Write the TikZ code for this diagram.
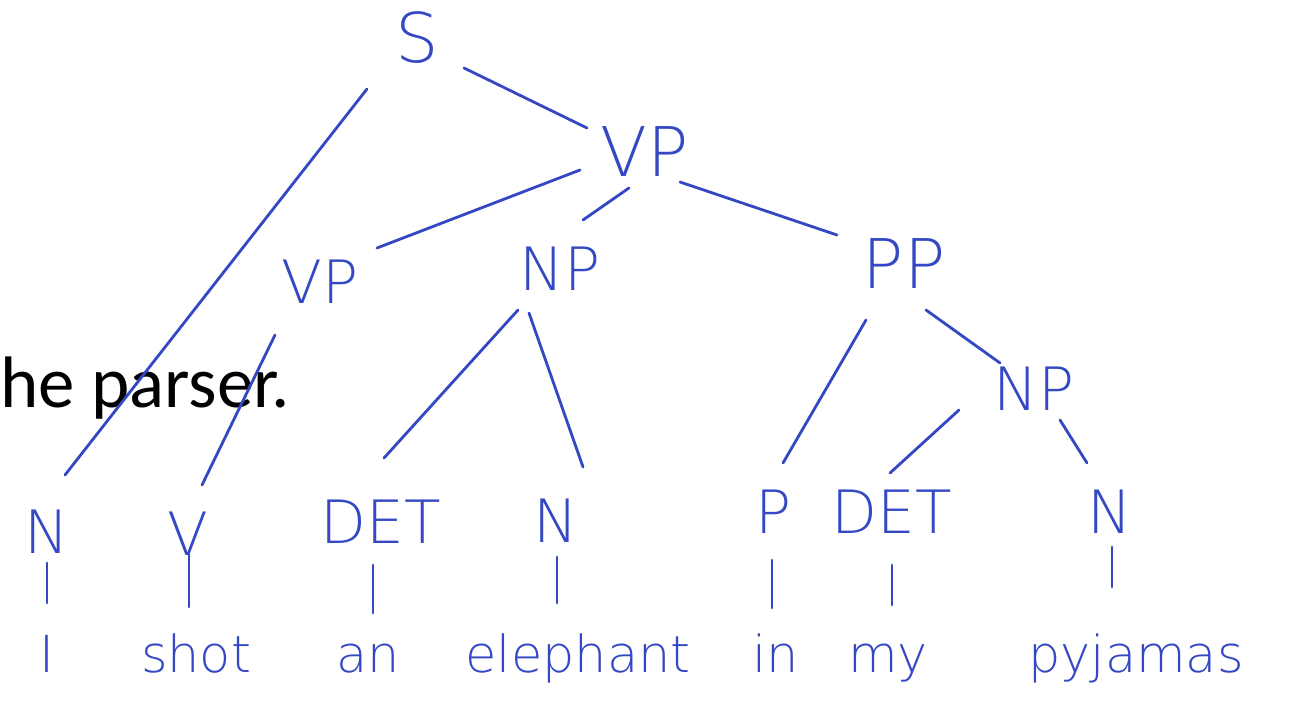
\documentclass[tikz,border=0pt]{standalone}
\usepackage{fontspec}
\setmainfont{DejaVu Sans}
\IfFontExistsTF{DejaVu Sans ExtraLight}{\newfontfamily\hand{DejaVu Sans ExtraLight}}{\newfontfamily\hand{DejaVu Sans}}
\newfontfamily\slidefont{Carlito}
\definecolor{ink}{RGB}{52,72,196}
\tikzset{
  lab/.style={anchor=base, inner sep=0pt, text=ink, font=\hand\fontsize{34}{34}\selectfont},
  biglab/.style={lab, font=\hand\fontsize{39}{39}\selectfont},
  leaf/.style={anchor=base, inner sep=0pt, text=ink, font=\hand\fontsize{29}{29}\selectfont},
  edge/.style={draw=ink, line width=1.6pt, line cap=round},
}
\begin{document}
\begin{tikzpicture}[x=0.02cm,y=-0.02cm]
\useasboundingbox (0,0) rectangle (1301,716);
\fill[white] (0,0) rectangle (1301,716);

% slide text
\node[anchor=base west, inner sep=0pt, font=\slidefont\fontsize{41.5}{41.5}\selectfont] (txt) at (0,407) {he parser.};

% phrase labels
\node[biglab] (S)   at (417,63)  {S};
\node[biglab] (VP0) at (645,177) {VP};
\node[lab]    (VP1) at (320,303) {VP};
\node[lab]    (NP1) at (560,290) {NP};
\node[biglab] (PP)  at (904,288) {PP};
\node[lab]    (NP2) at (1034,410) {NP};
% preterminals
\node[lab] (N1)   at (47,553)  {N};
\node[lab] (V)    at (188,555) {V};
\node[lab] (DET1) at (381,543) {DET};
\node[lab] (N2)   at (556,542) {N};
\node[lab] (P)    at (773,533) {P};
\node[lab] (DET2) at (892,533) {DET};
\node[lab] (N3)   at (1110,533) {N};
% words
\node[leaf] (wI)  at (47,672)   {I};
\node[leaf] (wshot) at (196,672) {shot};
\node[leaf] (wan) at (368,672)  {an};
\node[leaf] (wel) at (578,672)  {elephant};
\node[leaf] (win) at (776,672)  {in};
\node[leaf] (wmy) at (888,672)  {my};
\node[leaf] (wpy) at (1136,672) {pyjamas};

% tree edges
\draw[edge] ([shift={(-50,26)}]S.base) -- ([shift={(18,-78)}]N1.base);
\draw[edge] ([shift={(47,5)}]S.base) -- ([shift={(-58,-49)}]VP0.base);
\draw[edge] ([shift={(-65,-7)}]VP0.base) -- ([shift={(57,-55)}]VP1.base);
\draw[edge] ([shift={(-16,11)}]VP0.base) -- ([shift={(23,-70)}]NP1.base);
\draw[edge] ([shift={(35,5)}]VP0.base) -- ([shift={(-67,-53)}]PP.base);
\draw[edge] ([shift={(-45,32)}]VP1.base) -- ([shift={(14,-70)}]V.base);
\draw[edge] ([shift={(-42,20)}]NP1.base) -- ([shift={(3,-85)}]DET1.base);
\draw[edge] ([shift={(-31,23)}]NP1.base) -- ([shift={(27,-75)}]N2.base);
\draw[edge] ([shift={(-38,32)}]PP.base) -- ([shift={(10,-70)}]P.base);
\draw[edge] ([shift={(22,22)}]PP.base) -- ([shift={(-34,-47)}]NP2.base);
\draw[edge] ([shift={(-75,0)}]NP2.base) -- ([shift={(-2,-60)}]DET2.base);
\draw[edge] ([shift={(26,10)}]NP2.base) -- ([shift={(-23,-70)}]N3.base);
% preterminal to word
\draw[edge] ([shift={(0,10)}]N1.base) -- ([shift={(0,-69)}]wI.base);
\draw[edge] ([shift={(1,-1)}]V.base) -- ([shift={(-7,-65)}]wshot.base);
\draw[edge] ([shift={(-8,22)}]DET1.base) -- ([shift={(5,-59)}]wan.base);
\draw[edge] ([shift={(1,15)}]N2.base) -- ([shift={(-21,-69)}]wel.base);
\draw[edge] ([shift={(-1,27)}]P.base) -- ([shift={(-4,-64)}]win.base);
\draw[edge] ([shift={(0,32)}]DET2.base) -- ([shift={(4,-67)}]wmy.base);
\draw[edge] ([shift={(2,14)}]N3.base) -- ([shift={(-24,-85)}]wpy.base);
\end{tikzpicture}
\end{document}
